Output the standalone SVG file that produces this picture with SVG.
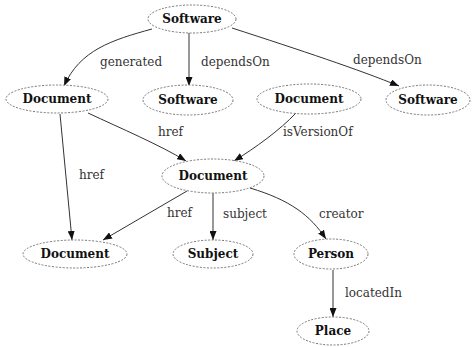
<svg xmlns="http://www.w3.org/2000/svg" width="475" height="347" viewBox="0 0 475 347">
  <style>
    .node ellipse { fill: #fff; stroke: #777; stroke-width: 1; stroke-dasharray: 2 1.5; }
    .node text { font-family: "DejaVu Serif", "Liberation Serif", serif; font-weight: bold; font-size: 12px; fill: #111; text-anchor: middle; }
    .edges path { fill: none; stroke: #333; stroke-width: 1; marker-end: url(#arrow); }
    .lbl { font-family: "DejaVu Serif", "Liberation Serif", serif; font-size: 12px; fill: #333; }
  </style>
  <defs>
    <marker id="arrow" markerUnits="userSpaceOnUse" markerWidth="9" markerHeight="7" refX="9" refY="3.5" orient="auto">
      <path d="M0,0 L9,3.5 L0,7 z" fill="#111"/>
    </marker>
  </defs>
  <rect width="475" height="347" fill="#fff"/>

  <g class="edges">
    <path d="M152,29 C112,40 80,50 64,86"/>
    <path d="M189,33 L189,86"/>
    <path d="M232,28 C300,50 360,70 399,86"/>
    <path d="M88,113 C120,128 160,145 186,161"/>
    <path d="M296,113 C280,130 255,148 234,161"/>
    <path d="M60,114 L72,240"/>
    <path d="M187,191 L103,240"/>
    <path d="M213,193 L213,240"/>
    <path d="M250,188 C290,200 310,215 326,239"/>
    <path d="M333,270 L333,317"/>
  </g>

  <g class="labels">
    <text class="lbl" x="100" y="66">generated</text>
    <text class="lbl" x="201" y="66">dependsOn</text>
    <text class="lbl" x="353" y="64">dependsOn</text>
    <text class="lbl" x="158" y="136">href</text>
    <text class="lbl" x="283" y="136">isVersionOf</text>
    <text class="lbl" x="79" y="179">href</text>
    <text class="lbl" x="167" y="217">href</text>
    <text class="lbl" x="223" y="218">subject</text>
    <text class="lbl" x="319" y="218">creator</text>
    <text class="lbl" x="345" y="297">locatedIn</text>
  </g>

  <g id="software-root" class="node"><ellipse cx="192" cy="19" rx="44" ry="14"/><text x="192" y="23">Software</text></g>
  <g id="document-a" class="node"><ellipse cx="57" cy="99" rx="51" ry="14"/><text x="57" y="103">Document</text></g>
  <g id="software-b" class="node"><ellipse cx="188" cy="100" rx="45" ry="15"/><text x="188" y="104">Software</text></g>
  <g id="document-b" class="node"><ellipse cx="309" cy="99" rx="52" ry="15"/><text x="309" y="103">Document</text></g>
  <g id="software-c" class="node"><ellipse cx="428" cy="100" rx="42" ry="15"/><text x="428" y="104">Software</text></g>
  <g id="document-c" class="node"><ellipse cx="213" cy="176" rx="51" ry="17"/><text x="213" y="180">Document</text></g>
  <g id="document-d" class="node"><ellipse cx="75" cy="254" rx="52" ry="14"/><text x="75" y="258">Document</text></g>
  <g id="subject" class="node"><ellipse cx="213" cy="254" rx="40" ry="14"/><text x="213" y="258">Subject</text></g>
  <g id="person" class="node"><ellipse cx="331" cy="254" rx="37" ry="15"/><text x="331" y="258">Person</text></g>
  <g id="place" class="node"><ellipse cx="333" cy="331" rx="36" ry="14"/><text x="333" y="335">Place</text></g>
</svg>
